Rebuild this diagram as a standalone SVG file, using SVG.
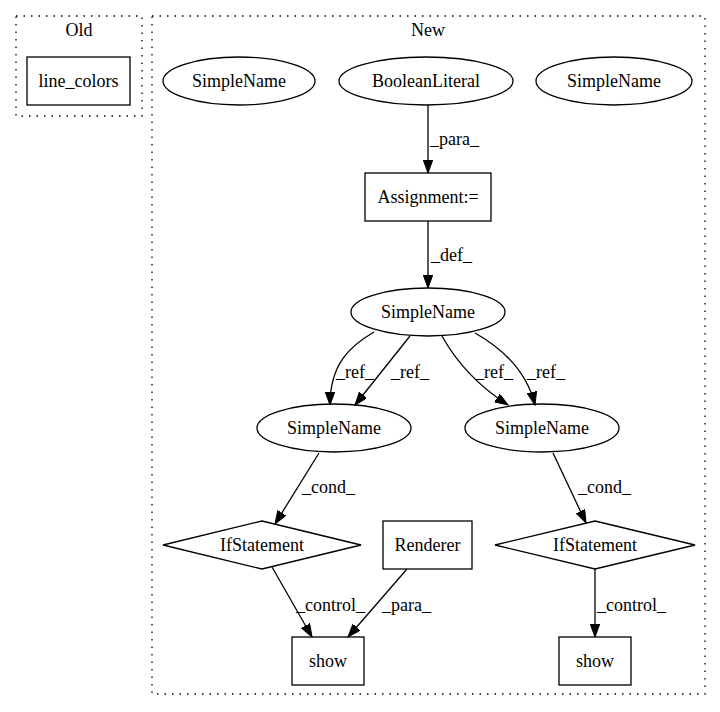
<svg xmlns="http://www.w3.org/2000/svg" width="720" height="712" viewBox="0 0 720 712" font-family="'Liberation Serif', 'DejaVu Serif', serif" font-size="18">
<defs>
<style>
text{font-family:'Liberation Serif','DejaVu Serif',serif;font-size:18px;fill:#000}
.n{text-anchor:middle}
.shape{fill:none;stroke:#000;stroke-width:1.3}
.cl{fill:none;stroke:#000;stroke-width:1.3;stroke-dasharray:1.5,6}
.e{fill:none;stroke:#000;stroke-width:1.3;marker-end:url(#ah)}
</style>
<marker id="ah" markerUnits="userSpaceOnUse" markerWidth="14" markerHeight="10" refX="13" refY="4.75" orient="auto">
<path d="M0,0 L13,4.75 L0,9.5 z" fill="#000" stroke="#000" stroke-width="1"/>
</marker>
</defs>
<rect width="720" height="712" fill="#fff"/>
<g id="cluster_old">
<rect class="cl" x="16" y="16" width="126" height="100"/>
<text class="n" x="79" y="36">Old</text>
</g>
<g id="cluster_new">
<rect class="cl" x="152" y="16" width="553" height="678"/>
<text class="n" x="428" y="36">New</text>
</g>
<g id="line_colors">
<rect class="shape" x="27" y="57" width="103" height="48"/>
<text class="n" x="78.5" y="87">line_colors</text>
</g>
<g id="simplename_tl">
<ellipse class="shape" cx="239" cy="81" rx="76" ry="24"/>
<text class="n" x="239" y="87">SimpleName</text>
</g>
<g id="booleanliteral">
<ellipse class="shape" cx="426" cy="81" rx="87" ry="24"/>
<text class="n" x="426" y="87">BooleanLiteral</text>
</g>
<g id="simplename_tr">
<ellipse class="shape" cx="614" cy="81" rx="78" ry="24"/>
<text class="n" x="614" y="87">SimpleName</text>
</g>
<g id="assignment">
<rect class="shape" x="365" y="173" width="126" height="48"/>
<text class="n" x="428" y="203">Assignment:=</text>
</g>
<g id="simplename_mid">
<ellipse class="shape" cx="428" cy="312" rx="77" ry="24"/>
<text class="n" x="428" y="318">SimpleName</text>
</g>
<g id="simplename_l">
<ellipse class="shape" cx="334" cy="428" rx="77" ry="24"/>
<text class="n" x="334" y="434">SimpleName</text>
</g>
<g id="simplename_r">
<ellipse class="shape" cx="542" cy="428" rx="77" ry="24"/>
<text class="n" x="542" y="434">SimpleName</text>
</g>
<g id="if_l">
<polygon class="shape" points="262,521 361,545 262,569 163,545"/>
<text class="n" x="262" y="551">IfStatement</text>
</g>
<g id="renderer">
<rect class="shape" x="383" y="521" width="89" height="48"/>
<text class="n" x="427.5" y="551">Renderer</text>
</g>
<g id="if_r">
<polygon class="shape" points="595,521 695,545 595,569 495,545"/>
<text class="n" x="595" y="551">IfStatement</text>
</g>
<g id="show_l">
<rect class="shape" x="292" y="637" width="72" height="48"/>
<text class="n" x="328" y="667">show</text>
</g>
<g id="show_r">
<rect class="shape" x="559" y="637" width="72" height="48"/>
<text class="n" x="595" y="667">show</text>
</g>
<g id="edges">
<path class="e" d="M428,105 L428,173"/>
<text x="430" y="145">_para_</text>
<path class="e" d="M428,221 L428,288"/>
<text x="431" y="261">_def_</text>
<path class="e" d="M374,332 C350,346 330,364 330,405"/>
<text x="336" y="378">_ref_</text>
<path class="e" d="M410,336 L355,405"/>
<text x="391" y="378">_ref_</text>
<path class="e" d="M442,336 C458,365 480,387 508,405"/>
<text x="475" y="378">_ref_</text>
<path class="e" d="M475,333 C505,350 527,372 535,405"/>
<text x="527" y="378">_ref_</text>
<path class="e" d="M319,453 L275,524"/>
<text x="302" y="493">_cond_</text>
<path class="e" d="M553,453 L586,523"/>
<text x="578" y="493">_cond_</text>
<path class="e" d="M272,567 L312,637"/>
<text x="296" y="611">_control_</text>
<path class="e" d="M407,569 L348,637"/>
<text x="382" y="611">_para_</text>
<path class="e" d="M595,569 L595,637"/>
<text x="597" y="611">_control_</text>
</g>
</svg>
